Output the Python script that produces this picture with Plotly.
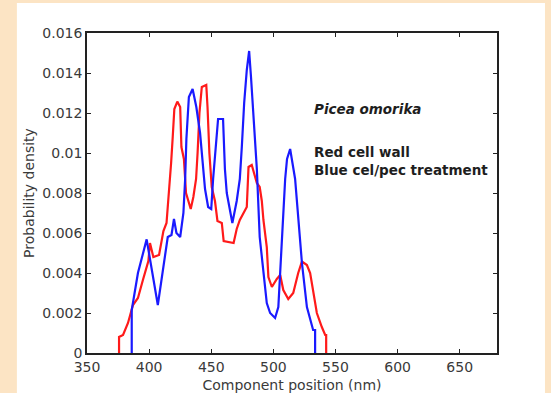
import plotly.graph_objects as go

# Blue: cel/pec treatment
blue_x = [386, 386, 391, 398, 407, 410, 413, 415, 418, 420, 422, 425, 427.6, 429, 430, 432, 435,
          438, 441, 443.5, 445, 447.5, 450, 451.5, 453, 455.5, 459.5, 461, 462.5, 465, 467,
          470.5, 473, 474.6, 476.5, 478.6, 480.5, 482, 483.5, 485.3, 486.7, 489, 492, 494.7,
          497.4, 501.4, 504, 505.5, 507.6, 509.5, 511, 513.5, 517.5, 520, 523, 527, 532, 533.6, 533.6]
blue_y = [0, 0.00215, 0.004, 0.00568, 0.0024, 0.00365, 0.005, 0.0058, 0.0059, 0.0067, 0.006, 0.0058,
          0.007, 0.0087, 0.0107, 0.0128, 0.0132, 0.0123, 0.011, 0.0092, 0.0082, 0.0073, 0.0072,
          0.0087, 0.010, 0.0117, 0.0117, 0.0092, 0.008, 0.0071, 0.0065, 0.0076, 0.0087, 0.0103,
          0.0125, 0.01415, 0.0151, 0.0138, 0.0122, 0.0103, 0.0092, 0.0058, 0.004, 0.0025, 0.002,
          0.00175, 0.0023, 0.004, 0.0063, 0.0087, 0.0097, 0.0102, 0.0087, 0.00665, 0.0045,
          0.0023, 0.00115, 0.00115, 0]

# Red: cell wall
red_x = [375.8, 375.8, 379, 383, 387, 391, 395, 399.4, 400.7, 403.4, 408, 410, 411.5, 414, 415.5,
         417, 417.7, 419, 420.3, 422.7, 425, 426, 428, 429.7, 431.6, 433.5, 435.6, 437.8, 439,
         440.5, 442.4, 446, 447, 448.5, 450.4, 453, 455, 458.5, 460, 468, 470.5, 473, 478.6,
         480, 482.6, 486.7, 489, 490.7, 492, 494.7, 496, 498.8, 502.8, 505.5, 508, 512, 516,
         520, 523, 527, 529.6, 532.3, 535, 539, 541.7, 542.5, 542.5]
red_y = [0, 0.0008, 0.0009, 0.0015, 0.0024, 0.00275, 0.00365, 0.0046, 0.0055, 0.0048, 0.0049,
         0.0055, 0.0061, 0.0065, 0.0076, 0.0087, 0.0095, 0.0108, 0.0122, 0.01257, 0.0123,
         0.0103, 0.0097, 0.008, 0.0076, 0.0072, 0.0078, 0.0087, 0.010, 0.012, 0.0133, 0.0134,
         0.0123, 0.010, 0.0083, 0.0076, 0.0066, 0.0065, 0.0056, 0.0055, 0.0062, 0.00665,
         0.0073, 0.0093, 0.0094, 0.0085, 0.0083, 0.0076, 0.00665, 0.0053, 0.0038, 0.0033,
         0.0037, 0.0039, 0.00315, 0.0027, 0.003, 0.004, 0.00457, 0.0044, 0.004, 0.003, 0.002,
         0.0013, 0.0009, 0.0009, 0]

x_ticks = [350, 400, 450, 500, 550, 600, 650]
y_ticks = [0, 0.002, 0.004, 0.006, 0.008, 0.01, 0.012, 0.014, 0.016]
y_tick_text = ["0", "0.002", "0.004", "0.006", "0.008", "0.01", "0.012", "0.014", "0.016"]

FONT = "DejaVu Sans"

fig = go.Figure()
fig.add_trace(go.Scatter(x=red_x, y=red_y, mode="lines",
                         line=dict(color="#FF1A1A", width=2.2), name="cell wall"))
fig.add_trace(go.Scatter(x=blue_x, y=blue_y, mode="lines",
                         line=dict(color="#1A1AFF", width=2.2), name="cel/pec treatment"))

axis_common = dict(showline=True, linecolor="#222222", linewidth=1.5, mirror="ticks",
                   ticks="inside", ticklen=4, tickcolor="#222222", showgrid=False,
                   zeroline=False, automargin=False,
                   tickfont=dict(family=FONT, size=14, color="#3a3a3a"))

fig.update_xaxes(range=[350, 680], tickvals=x_ticks,
                 title=dict(text="Component position (nm)", standoff=12,
                            font=dict(family=FONT, size=14, color="#3a3a3a")),
                 **axis_common)
fig.update_yaxes(range=[0, 0.016], tickvals=y_ticks, ticktext=y_tick_text,
                 title=dict(text="Probability density", standoff=4,
                            font=dict(family=FONT, size=14, color="#3a3a3a")),
                 **axis_common)

fig.add_shape(type="rect", xref="paper", yref="paper", x0=-0.171, x1=1.117, y0=-0.2, y1=1.094,
              fillcolor="white", line=dict(width=0), layer="below")

ann_font = dict(family=FONT, size=13.5, color="#1e1e1e")
fig.add_annotation(x=531, y=0.0122, xref="x", yref="y", text="<b><i>Picea omorika</i></b>",
                   showarrow=False, xanchor="left", font=ann_font)
fig.add_annotation(x=531, y=0.01005, xref="x", yref="y", text="<b>Red cell wall</b>",
                   showarrow=False, xanchor="left", font=ann_font)
fig.add_annotation(x=531, y=0.00915, xref="x", yref="y", text="<b>Blue cel/pec treatment</b>",
                   showarrow=False, xanchor="left", font=ann_font)

fig.update_layout(width=551, height=393, showlegend=False,
                  margin=dict(l=87, r=54, t=33, b=40, autoexpand=False),
                  paper_bgcolor="#FCE4C4", plot_bgcolor="white")

fig.write_html("out.html", config={"displayModeBar": False},
               post_script="document.body.style.margin='0';document.body.style.background='#FCE4C4';")
